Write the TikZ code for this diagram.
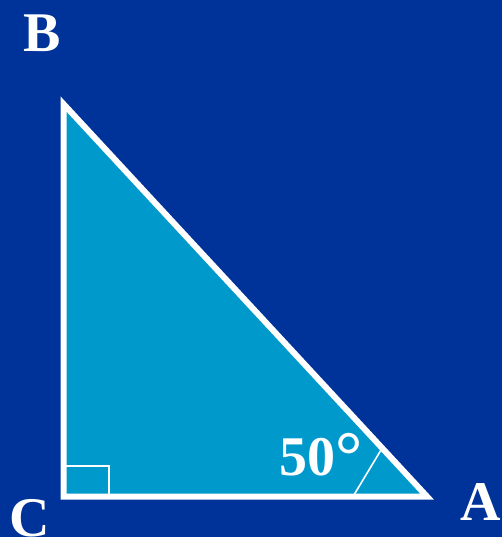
\documentclass[tikz,border=0pt]{standalone}
\usepackage{fontspec}
\setmainfont{Liberation Serif}
\usepackage{xcolor}
\usetikzlibrary{calc}

\definecolor{fondo}{RGB}{0,51,153}
\definecolor{relleno}{RGB}{0,153,204}

\begin{document}
\begin{tikzpicture}[
            x=1pt, y=-1pt,
            vertice/.style={
                text=white,
                inner sep=0pt,
                anchor=base,
                font=\fontsize{56}{60}\selectfont\bfseries
            },
            lado/.style={
                draw=white,
                line width=6pt,
                line join=miter,
                fill=relleno
            },
            marca/.style={
                draw=white,
                line width=1.6pt
            }
        ]
            % --- FONDO ---
            \fill[fondo] (0,0) rectangle (502,537);
            \useasboundingbox (0,0) rectangle (502,537);

            % --- VERTICES ---
            \coordinate (B) at (63.5,104);
            \coordinate (C) at (63.5,496.5);
            \coordinate (A) at (427,496.5);

            % --- TRIANGULO ---
            \path[lado] (B) -- (C) -- (A) -- cycle;

            % --- MARCAS DE ANGULO ---
            \coordinate (rectoA) at (109,496.5);
            \coordinate (rectoB) at (63.5,466);
            \coordinate (rectoC) at (109,466);
            \draw[marca] (rectoB) -- (rectoC) -- (rectoA);
            \coordinate (arcoC) at ($(A)!74pt!(C)$);
            \coordinate (arcoB) at ($(A)!66pt!(B)$);
            \draw[marca] (arcoC) -- (arcoB);

            % --- ETIQUETAS ---
            \node[vertice] (etqB) at (42,52) {B};
            \node[vertice] (etqC) at (30,536) {C};
            \node[vertice] (etqA) at (481,520) {A};
            \node[vertice, anchor=base west] (angulo) at (279,475)
                {50\raisebox{-3pt}{\fontsize{68}{68}\selectfont °}};
        \end{tikzpicture}
\end{document}
